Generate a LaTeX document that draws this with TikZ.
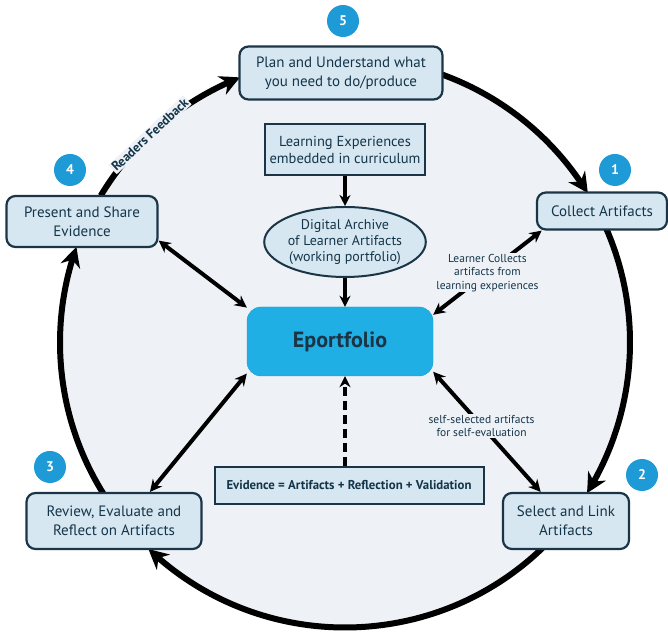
\documentclass[tikz,border=0pt]{standalone}
\usepackage{fontspec}
\setmainfont{PT Sans}
\usepackage{tikz}
\usetikzlibrary{shapes.geometric, arrows.meta, bending}
\definecolor{bgc}{HTML}{EEF2F7}
\definecolor{boxfill}{HTML}{D6E7F1}
\definecolor{boxline}{HTML}{1B3546}
\definecolor{txt}{HTML}{143549}
\definecolor{numblue}{HTML}{1E9AD6}
\definecolor{eblue}{HTML}{1FAFE4}

\begin{document}
\begin{tikzpicture}[x=1pt, y=1pt,
    stagebox/.style={draw=boxline, line width=2.2pt, fill=boxfill, rounded corners=9pt,
      text=txt, align=center, font=\fontsize{15}{19}\selectfont, inner sep=0pt},
    plainbox/.style={draw=boxline, line width=2pt, fill=boxfill, text=txt, align=center, inner sep=0pt},
    numdot/.style={circle, fill=numblue, text=white, font=\bfseries\fontsize{14}{14}\selectfont,
      minimum size=32pt, inner sep=0pt},
    cyc/.style={line width=6pt, -{Stealth[length=20pt, width=20pt, bend]}},
    link/.style={line width=4pt, {Stealth[length=12pt, width=12pt]}-{Stealth[length=12pt, width=12pt]}},
    down/.style={line width=3.5pt, -{Stealth[length=11pt, width=11pt]}},
    note/.style={fill=bgc, text=txt, align=center, font=\fontsize{11.5}{13.5}\selectfont, inner sep=1pt}]

    \useasboundingbox (0,0) rectangle (668,636);

    % Background disc
    \coordinate (C) at (345,293.5);
    \fill[bgc] (C) circle[radius=285];

    % Cycle arcs
    \draw[cyc] ([shift=(72:285)]C) arc[start angle=72, end angle=31.6, radius=285];
    \draw[cyc] ([shift=(25:285)]C) arc[start angle=25, end angle=-31.9, radius=285];
    \draw[cyc] ([shift=(-44:285)]C) arc[start angle=-44, end angle=-133.6, radius=285];
    \draw[cyc] ([shift=(-146:285)]C) arc[start angle=-146, end angle=-199.6, radius=285];
    \draw[cyc] ([shift=(-211:285)]C) arc[start angle=-211, end angle=-248.4, radius=285];
    \node[font=\bfseries\fontsize{13}{14}\selectfont, text=txt, fill=bgc, inner sep=1.5pt, rotate=43]
      (feedback) at ([shift=(133.2:285)]C) {Readers Feedback};

    % Stage boxes
    \node[stagebox, minimum width=203, minimum height=53] (plan) at (341,563)
      {Plan and Understand what\\you need to do/produce};
    \node[stagebox, minimum width=130, minimum height=37] (collect) at (602,425) {Collect Artifacts};
    \node[stagebox, minimum width=126, minimum height=56] (select) at (566,115) {Select and Link\\Artifacts};
    \node[stagebox, minimum width=175, minimum height=56] (review) at (114,115)
      {Review, Evaluate and\\Reflect on Artifacts};
    \node[stagebox, minimum width=151, minimum height=51] (present) at (82,414.5)
      {Present and Share\\Evidence};

    % Step numbers
    \node[numdot] (n5) at (343,615) {5};
    \node[numdot] (n1) at (615,466) {1};
    \node[numdot] (n2) at (642,161) {2};
    \node[numdot] (n3) at (50,169) {3};
    \node[numdot] (n4) at (70,466) {4};

    % Centre
    \node[plainbox, minimum width=160, minimum height=51, font=\fontsize{14.5}{17}\selectfont]
      (learn) at (345,486) {Learning Experiences\\embedded in curriculum};
    \node[plainbox, ellipse, minimum width=149, minimum height=70, font=\fontsize{14}{16}\selectfont]
      (archive) at (345,394) {Digital Archive\\of Learner Artifacts\\(working portfolio)};
    \node[fill=eblue, draw=eblue!90!black, rounded corners=14pt, minimum width=186, minimum height=69,
      text=boxline, font=\bfseries\fontsize{22}{24}\selectfont] (eport) at (340,294.5) {Eportfolio};
    \node[plainbox, minimum width=269, minimum height=37, font=\bfseries\fontsize{12.8}{14}\selectfont]
      (evidence) at (349,150.5) {Evidence = Artifacts + Reflection + Validation};

    % Vertical arrows
    \draw[down] (learn.south) -- (archive.north);
    \draw[down] (archive.south) -- (archive.south |- eport.north);
    \draw[down, dashed, dash pattern=on 9pt off 5pt] (evidence.north -| 345,0) -- (345,0 |- eport.south);

    % Links to the Eportfolio
    \draw[link] (present.-14) -- (eport.160);
    \draw[link] (review.39) -- (eport.199);
    \draw[link] (collect.198) -- node[note] (lcollect) {Learner Collects\\artifacts from\\learning experiences} (eport.16);
    \draw[link] (select.131) -- node[note, pos=0.55] (lself) {self-selected artifacts\\for self-evaluation} (eport.-18);

\end{tikzpicture}
\end{document}
